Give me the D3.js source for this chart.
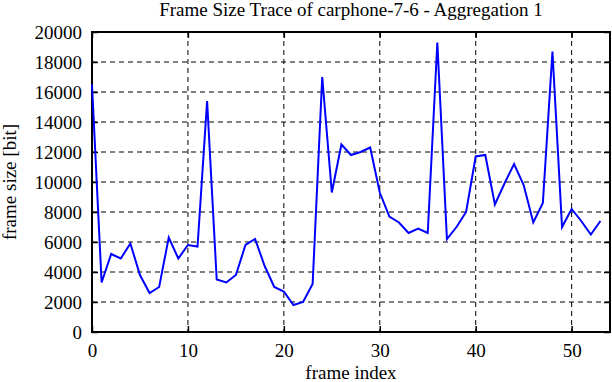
<!DOCTYPE html>
<html lang="en">

<head>
    <meta charset="UTF-8">
    <title>Frame Size Trace</title>
    <script src="https://d3js.org/d3.v7.min.js"></script>

    <style>
        body {
            margin: 0;
            background: #fff;
        }

        svg text {
            font-family: "Liberation Serif", "DejaVu Serif", serif;
            font-size: 19px;
            fill: #000;
        }
    </style>

</head>

<body>
    <svg id="chart" width="612" height="382"></svg>

    <script>
        // frame size per frame index
        const frameSizes = [
            16500, 3300, 5200, 4900, 5900, 3800, 2600, 3000, 6300, 4900,
            5800, 5700, 15400, 3500, 3300, 3800, 5800, 6200, 4400, 3000,
            2700, 1800, 2000, 3200, 17000, 9300, 12500, 11800, 12000, 12300,
            9300, 7700, 7300, 6600, 6900, 6600, 19300, 6200, 7000, 8000,
            11700, 11800, 8500, 9900, 11200, 9800, 7300, 8600, 18700, 7000,
            8200, 7400, 6500, 7400
        ];
        const xTicks = [0, 10, 20, 30, 40, 50];
        const yTicks = [0, 2000, 4000, 6000, 8000, 10000, 12000, 14000, 16000, 18000, 20000];

        function program() {
            const margin = { top: 32, right: 2, bottom: 50, left: 92 };
            const width = 612 - margin.left - margin.right;
            const height = 382 - margin.top - margin.bottom;

            const svg = d3.select("#chart");
            const g = svg.append("g")
                .attr("transform", `translate(${margin.left},${margin.top})`);

            const x = d3.scaleLinear().domain([0, 54]).range([0, width]);
            const y = d3.scaleLinear().domain([0, 20000]).range([height, 0]);

            // dashed grid
            g.append("g")
                .selectAll("line")
                .data(xTicks.filter(d => d > 0))
                .join("line")
                .attr("x1", d => x(d)).attr("x2", d => x(d))
                .attr("y1", 0).attr("y2", height)
                .attr("stroke", "#000")
                .attr("stroke-width", 1)
                .attr("stroke-dasharray", "5,4");

            g.append("g")
                .selectAll("line")
                .data(yTicks.filter(d => d > 0 && d < 20000))
                .join("line")
                .attr("x1", 0).attr("x2", width)
                .attr("y1", d => y(d)).attr("y2", d => y(d))
                .attr("stroke", "#000")
                .attr("stroke-width", 1)
                .attr("stroke-dasharray", "5,4");

            // axes with inward ticks, mirrored on top/right
            const styleAxis = sel => {
                sel.attr("font-family", null).attr("font-size", null);
                sel.select(".domain").remove();
                sel.selectAll(".tick line").attr("stroke", "#000").attr("stroke-width", 1.5);
            };

            g.append("g")
                .attr("transform", `translate(0,${height})`)
                .call(d3.axisBottom(x).tickValues(xTicks).tickSize(-6).tickPadding(12).tickFormat(d3.format("d")))
                .call(styleAxis);

            g.append("g")
                .call(d3.axisTop(x).tickValues(xTicks).tickSize(-6).tickFormat(""))
                .call(styleAxis);

            g.append("g")
                .call(d3.axisLeft(y).tickValues(yTicks).tickSize(-6).tickPadding(10).tickFormat(d3.format("d")))
                .call(styleAxis);

            g.append("g")
                .attr("transform", `translate(${width},0)`)
                .call(d3.axisRight(y).tickValues(yTicks).tickSize(-6).tickFormat(""))
                .call(styleAxis);

            // frame
            g.append("rect")
                .attr("width", width)
                .attr("height", height)
                .attr("fill", "none")
                .attr("stroke", "#000")
                .attr("stroke-width", 2);

            // trace
            const line = d3.line()
                .x((d, i) => x(i))
                .y(d => y(d));

            g.append("path")
                .datum(frameSizes)
                .attr("d", line)
                .attr("fill", "none")
                .attr("stroke", "#0000ff")
                .attr("stroke-width", 2)
                .attr("stroke-linejoin", "miter");

            // title and labels
            svg.append("text")
                .attr("x", 351)
                .attr("y", 16)
                .attr("text-anchor", "middle")
                .text("Frame Size Trace of carphone-7-6 - Aggregation 1");

            svg.append("text")
                .attr("x", margin.left + width / 2)
                .attr("y", 379)
                .attr("text-anchor", "middle")
                .text("frame index");

            svg.append("text")
                .attr("transform", `translate(16,${margin.top + height / 2}) rotate(-90)`)
                .attr("text-anchor", "middle")
                .text("frame size [bit]");
        }

        program();
    </script>

</body>

</html>
